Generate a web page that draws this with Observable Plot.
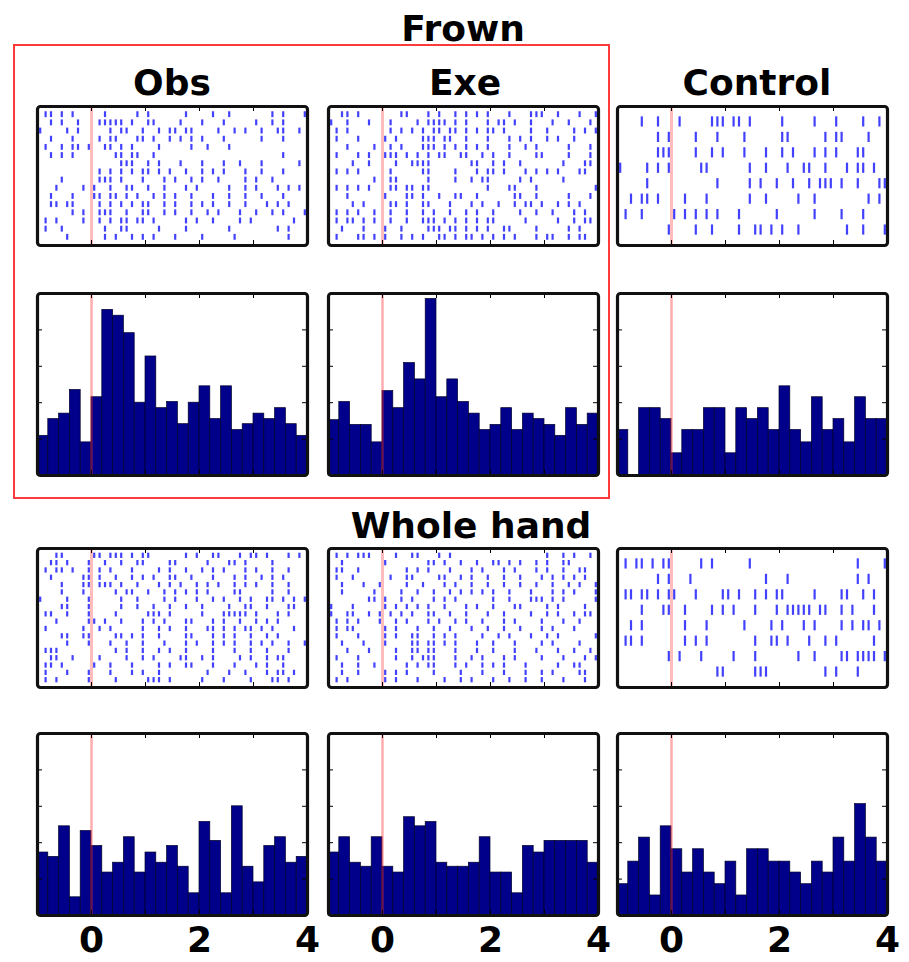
<!DOCTYPE html>
<html><head><meta charset="utf-8">
<script src="https://cdn.jsdelivr.net/npm/d3@7"></script>
<script src="https://cdn.jsdelivr.net/npm/@observablehq/plot@0.6"></script>
<style>
body{margin:0;background:#fff;}
#root{position:relative;width:909px;height:962px;font-family:"DejaVu Sans",sans-serif;font-weight:bold;color:#000;overflow:hidden;}
.t{position:absolute;width:400px;text-align:center;font-size:36px;line-height:36px;white-space:nowrap;}
.p{position:absolute;}
#box{position:absolute;left:13px;top:44px;width:593px;height:451px;border:2px solid #ff3a3a;}
</style></head><body><div id="root"><div id="box"></div></div>
<script>
// ---------------- data ----------------
const blocks = ["Frown", "Whole hand"];
const conditions = ["Obs", "Exe", "Control"];
const xTickLabels = [0, 2, 4];
const innerTicks = [0, 1, 2, 3];
const histYTicks = [10, 20, 30, 40];
// histogram bins: 0.2 s wide, starting at
const binStarts = [-1,-0.8,-0.6,-0.4,-0.2,0,0.2,0.4,0.6,0.8,1,1.2,1.4,1.6,1.8,2,2.2,2.4,2.6,2.8,3,3.2,3.4,3.6,3.8];

const histFrownObs  = [10.9,15.5,17,23.5,9.1,21.5,45.5,43.9,39.1,20,32.7,18.5,20.2,14.1,20,24.5,15.5,24.5,12.5,14.1,17,15.5,18.5,14.1,10.9];
const histFrownExe  = [15.2,20.2,13.9,13.9,9.1,23.2,18.5,30.9,26.4,48.5,21.5,26.4,20.2,17,12.5,13.9,18.5,12.5,17,15.5,13.9,10.9,18.5,13.9,17];
const histFrownCtrl = [12.5,0,18.5,18.5,15.5,6.1,12.5,12.5,18.5,18.5,6.1,18.5,15.5,18.5,12.5,24.5,12.5,9.1,21.5,12.5,15.5,9.1,21.5,15.5,15.5];
const histWholeObs  = [17.3,16.1,24.5,5,23.2,19.1,11.8,14.5,21.5,11.8,17.3,14.5,19.1,13.4,6.1,25.7,20.5,6.1,30,13.4,9.1,19.1,21.5,14.5,16.1];
const histWholeExe  = [17.3,21.5,14.5,13.4,21.5,13.4,11.8,27,24.5,25.7,14.5,13.4,13.4,14.5,21.5,11.8,11.8,6.1,19.1,17.3,20.5,20.5,20.5,20.5,14.5];
const histWholeCtrl = [8.6,14.8,21.4,5.5,24.5,18.2,11.8,18.2,11.8,8.6,14.8,5.5,18.2,18.2,14.8,14.8,11.8,8.6,14.8,11.8,21.4,14.8,30.6,21.4,14.8];

// rasters: one string per trial, 50 bins of 0.1 s from -1 s to 4 s, "|" = spike
const rasterFrownObs = [
".||.|.|... ..|.....|. |......|.. ..|..|.... ...|.|...|",
"..|.|..|.. .|||||.|.. ||....|... |...|..... |..|.|....",
"|....|.|.. ...|.||..| ..|.||.||. ...|..|.|. .|..||..|.",
"..|...|... .|.||...|| .|..|.|.|. |...|..... .|...|....",
".|..|.||.| ..||.|.|.. ..|.....|. .|...|.... ..........",
"..|.|.|... ....||.||. .|........ .......... .....|....",
".......... .....|||.. |.|...|... |...|..|.. .|......|.",
".......... .|.|.|.|.| |.|.|..|.. |.|.|...|. .|...|....",
"....|..... .|||.|...| ...|.|..|. |..|....|. |..|......",
"...|....|. |..|..||.. |..|...|.| .....|..|. |...|.|.|.",
"..|...|... ||.||.|.|. .|.|.|..|. ..|..|..|. .|...|....",
"..||.||... .|.|.|.|.| |..|.|..|. |.|..|..|. ..|.|.|...",
"......|.|. .|||..|..| |..|.|..|. .|.|...|.. |..|.|...|",
".|.|....|. .|.|.||.|| .|.....|.| ..|....|.| .......|..",
".|..|..... ..|..||... ..|....|.. .....|.... ....|.|...",
".....|.... ..|.|..|.| .|...|.... |.....|... ......|..."
];
const rasterFrownExe = [
"..||.|.... ...||...|. |..|.|.|.| ...|...||| ..|...|..|",
"|..|...|.. .|....|.|| ||.|.|...| .||.|..|.. .|..|...|.",
".|.|...... .|.|.|.|.| |.||.|.|.| |.|....|.. |....|.|.|",
".|...|.... |.|....||| .||..|...| ...|.|.|.. |.|..|....",
"...|....|. .|.|...||| .|.|.|.|.| ...|..|.|. ....|...|.",
".|...|.|.. |||.|.|.|. ||..||..|. |..|....|| ....|...|.",
"....|..|.. ..|..||||. ......||.. |.|..|.... ...|...||.",
".|.|.|.... .|.....||. ...|...|.| |.|...|.|. |.|...||..",
"........|. .||.....|. ...|..|.|| .....|.|.. ...|......",
".|.|.|.|.. .||.||.||. .........| ...||...|. .........|",
"...|...... |...||.|.. |..||..|.. ....||..|. ....|...|.",
"....|.|... .||.|..||. ..|...|.|. .|..|.||.| ..|.|.|...",
".|.|.|..|. .|..|..|.| ..|..|.|.. |....|..|. .|...|.|..",
".|.||.|.|. .|..|..||| .|.|.|.|.| |.....|... ..|..|.||.",
"..|...|... |..|....|| |.||.|.|.| ..||....|. ....|.|...",
".|...||.|. |..|.|.|.. ||.|.||.|. |.|.|...|. ||..|.||.."
];
const rasterFrownCtrl = [
"....|..|.. .|.....||| .||.|..... |.....|... |....|..|.",
".......|.| ....|...|. ...|...... ||......|. ||....|...",
".......||| ....|..|.| ...|...|.. |.|...|.|. |...||....",
"|....|.|.| .....||... ....|..|.. .|..||..|. ..|.||.|..",
".....|.... ........|. ....|.|..| ..|..|.||| .|..|...||",
"..|.||.|.. ..|...|... ....|..|.. ...|..|... ......|.|.",
".|..|..... |.|.|.|.|. ..|......| ......|... .|...|....",
".........| ....|..|.. ..|..||.|. |..|...... ..|..|...|"
];
const rasterWholeObs = [
"...||..... ||.|||.|.| |......|.| ..||...|.| |.|...|.|.",
"..||.|...| ..|..|..|| ....||.... .|...||.|. ...|......",
".|.||.|..| .|.|...|.. ..|.|..|.. |.|.|...|. |..|..|...",
"..|.....|| .|..|..|.| .|..||..|. ..|...|.|. .|.|.|....",
"....|...|| .|||.|..|. ..|.|.|..| .|.|..|.|. |..|..|...",
"....|...|. ....|.||.. |..|.|.|.| .|....||.. ...|..|...",
"|....|...| .....|..|. ...|.|...| ..|.|..|.| ..||.|.|.|",
"....||...| .....|..|. .|..|..|.. |....|..|| ..|...||..",
".||..|...| ....|..... |||.|..... |...|||||. |...|.|...",
"...|.....| |.|..|...| .|.|...||. ..|.|..|.. |.|.|.....",
".|......|. .|.|.....| ..|.|..|.. .||.|.|.|| .|.|...|..",
"....||..|| ....||.|.| ..|....||. ..|.|.|..| ..|.|.....",
".....|...| ...|..|..| ...|...|.| ..|.|.|..| .|.|..|..|",
".|||...... ....|.|..| ..|.|..|.. ..|...|..| ..|...|...",
"..||..|... .|....|..| .|....||.. |.|....|.| ..|.||....",
".||.|..... |..|...|.. ..|.|..||. ..|...|... |.|..|....",
".|...|...| ...|...|.| ..|....... .|...|..|. ..|.||.|..",
".|.|.....| ....|..... |||.|..... |...|....| ...||.|..."
];
const rasterWholeExe = [
".|.|.|||.. ..|..||... |.|....... .......... |..|.|..|.",
"..|....... |.......|| .|..|..|.. ||.|.|..|. |..||.....",
".||..|.... ....|.|.|. ..|...|.|. ..|.|...|. |..|..||..",
".|..|..... .|..||.... ||..|.|..| ..|..|...| .|.|.|.|..",
"..|...|..| ....|..|.. .|.|..|..| ..|..|..|. .|..|.|..|",
"..|.....|. ...|..|..| ..|.|.|.|. |..|...|.. .|.|.|...|",
".......||. |..|.|...| .|.|...... |..|...||| .|.|.....|",
"|...|..... |.|.|.|.|. .|...|.|.. |...||.... |.|....|..",
"|..||..|.| .|.|.|..|| ..|..|...| ..|....|.. |.|..|.||.",
".|.|.|...| ..|.|...|. |..|.|..|. ..|.|....| ...|..|...",
".|.||..... |.|...|..| ..|...|..| ..|..|...| .|...|....",
".|...|.... |.|..||..| .|.|....|. .|.|...|.. |.|......|",
"..|...|... |....||.|| .|.|...|.. |...|....| .|....|...",
"...|...|.. ..|..||.|| ...|...|.. |...|...|. ..|..|..|.",
".|...|.... ..|..|.||| ...|..|.|. ..|.|....| ...|...|.|",
"..|..|..|. ....|.|.|| ...|.|..|. |.|...|... ..|..||...",
"..|..|.... |.|.|....| ....|...|. ..|...|..| .|....||..",
".|.|...... |.|...|... .|..|.|... |..|..|..| ...|...|.."
];
const rasterWholeCtrl = [
".|.||.|.|| .....|.|.. ....|..... .......... ....|....|",
".......|.| ...|...... .......|.. .|........ ....|.|...",
".||.||.|.| |...|....| |.|..|.|.| |.....|... .||..|.|..",
"....|...|| ..|....|.| .|...|...| .|||||.||. .|.|...|..",
"..|.|..... ..|...|... ...|....|. |...|.|... .|.|.||.|.",
".||.|..... ..|.|.|... .....|..|| .|...|..|. |......|..",
".........| .|...|.... .|...|.... ...|..|... .||.||||.|",
".......... ........|| .....|||.. ........|. |...|....."
];

// ---------------- helpers ----------------
function decodeRaster(rows) {
  const out = [];
  rows.forEach((r, trial) => {
    const s = r.replace(/ /g, "");
    for (let k = 0; k < s.length; k++) if (s[k] === "|") out.push({trial, t: -1 + (k + 0.5) * 0.1});
  });
  return out;
}
function histBars(values) {
  return values.map((v, i) => ({x1: binStarts[i], x2: binStarts[i] + 0.2, v}));
}

const root = document.getElementById("root");
const colLeft = [37, 328, 617];
const PW = 270;
const rowTop = [106, 293, 548, 733];
const rowH = [139, 182, 139, 182];
const MX = 14, MT = 3;
const FONT = '"DejaVu Sans", sans-serif';

function place(svg, left, top) {
  const d = document.createElement("div");
  d.className = "p";
  d.style.left = (left - MX) + "px";
  d.style.top = (top - MT) + "px";
  d.appendChild(svg);
  root.appendChild(d);
}

function edgeTicks(h, ticks) {
  return [
    Plot.tickX(ticks, {x: d => d, insetBottom: h - 5, stroke: "#000", strokeWidth: 1}),
    Plot.tickX(ticks, {x: d => d, insetTop: h - 5, stroke: "#000", strokeWidth: 1})
  ];
}

function rasterPanel(rows, col, row) {
  const n = rows.length, h = rowH[row];
  const spikes = decodeRaster(rows);
  const half = n > 10 ? 0.36 : 0.33;
  const svg = Plot.plot({
    width: PW + 2 * MX, height: h + 2 * MT,
    marginLeft: MX, marginRight: MX, marginTop: MT, marginBottom: MT,
    x: {domain: [-1, 4], axis: null},
    y: {domain: [-1, n], reverse: true, axis: null},
    style: {background: "transparent", overflow: "visible"},
    marks: [
      Plot.ruleX(spikes, {x: "t", y1: d => d.trial - half, y2: d => d.trial + half, stroke: "#2020ff", strokeWidth: 2.2, strokeOpacity: 0.85}),
      Plot.ruleX([0], {stroke: "#ff6b6b", strokeOpacity: 0.45, strokeWidth: 3}),
      ...edgeTicks(h, innerTicks),
      Plot.frame({stroke: "#111", strokeWidth: 3.2, rx: 3})
    ]
  });
  place(svg, colLeft[col], rowTop[row]);
}

function histPanel(values, col, row, withAxis) {
  const h = rowH[row];
  const mb = withAxis ? 50 : MT;
  const svg = Plot.plot({
    width: PW + 2 * MX, height: h + MT + mb,
    marginLeft: MX, marginRight: MX, marginTop: MT, marginBottom: mb,
    x: {domain: [-1, 4]},
    y: {domain: [0, 50], axis: null},
    style: {background: "transparent", overflow: "visible", fontFamily: FONT, fontWeight: "bold"},
    marks: [
      Plot.rectY(histBars(values), {x1: "x1", x2: "x2", y: "v", fill: "#00008b", stroke: "#00002a", strokeWidth: 0.7}),
      Plot.ruleX([0], {stroke: "#ff3030", strokeOpacity: 0.4, strokeWidth: 2.5}),
      ...edgeTicks(h, innerTicks),
      Plot.tickY(histYTicks, {y: d => d, insetRight: PW - 5, stroke: "#000", strokeWidth: 1}),
      Plot.tickY(histYTicks, {y: d => d, insetLeft: PW - 5, stroke: "#000", strokeWidth: 1}),
      withAxis
        ? Plot.axisX({ticks: xTickLabels, tickSize: 0, tickPadding: 11, fontSize: 36, fontWeight: "bold", fontFamily: FONT, fill: "#000", tickFormat: d => String(d)})
        : Plot.axisX({ticks: [], label: null}),
      Plot.frame({stroke: "#111", strokeWidth: 3.2, rx: 3})
    ]
  });
  place(svg, colLeft[col], rowTop[row]);
}

function title(text, cx, baseline) {
  const d = document.createElement("div");
  d.className = "t";
  d.textContent = text;
  d.style.left = (cx - 200) + "px";
  d.style.top = (baseline - 30.5) + "px";
  root.appendChild(d);
}

// ---------------- draw ----------------
const rasters = [[rasterFrownObs, rasterFrownExe, rasterFrownCtrl], [rasterWholeObs, rasterWholeExe, rasterWholeCtrl]];
const hists = [[histFrownObs, histFrownExe, histFrownCtrl], [histWholeObs, histWholeExe, histWholeCtrl]];
blocks.forEach((b, bi) => {
  conditions.forEach((c, ci) => {
    rasterPanel(rasters[bi][ci], ci, bi * 2);
    histPanel(hists[bi][ci], ci, bi * 2 + 1, bi === 1);
  });
});

title(blocks[0], 463, 41);
title(blocks[1], 471, 538);
const condCenters = [172, 465, 757];
conditions.forEach((c, i) => title(c, condCenters[i], 95));
</script>
</body></html>
